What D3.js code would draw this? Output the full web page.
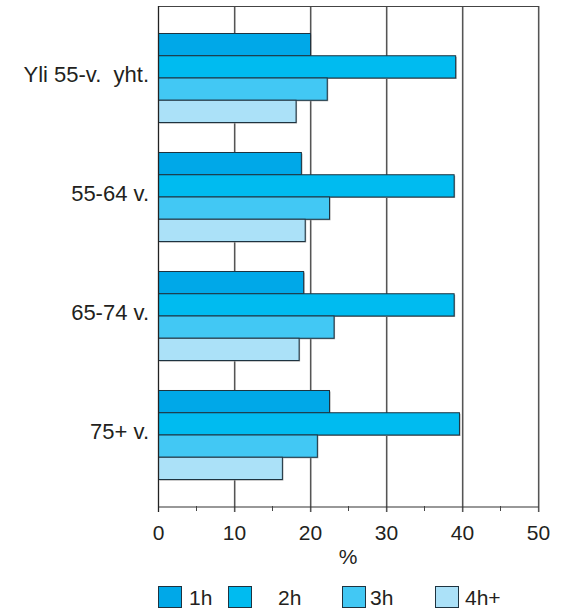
<!DOCTYPE html>
<html>
<head>
<meta charset="utf-8">
<script src="https://cdn.jsdelivr.net/npm/d3@7"></script>
<style>
  body { margin: 0; background: #fff; }
  text { font-family: "Liberation Sans", Arial, sans-serif; fill: #231f20; }
</style>
</head>
<body>
<div id="chart"></div>
<script>
// groups, top to bottom
var groups = ["Yli 55-v.  yht.", "55-64 v.", "65-74 v.", "75+ v."];
var seriesNames = ["1h", "2h", "3h", "4h+"];
var colors = ["#00a8e8", "#00bbf0", "#42c8f4", "#abe1f8"];
var h1 = [20.0, 18.8, 19.1, 22.5];
var h2 = [39.1, 38.9, 38.9, 39.6];
var h3 = [22.2, 22.5, 23.1, 20.9];
var h4 = [18.1, 19.3, 18.5, 16.3];
var xTicks = [0, 10, 20, 30, 40, 50];
var minorTicks = [5, 15, 25, 35, 45];

var series = [h1, h2, h3, h4];
var data = [];
groups.forEach(function(g, gi) {
  series.forEach(function(s, si) {
    data.push({group: g, key: seriesNames[si], value: s[gi], idx: si});
  });
});

var width = 562, height = 609;
var margin = {top: 6, left: 158, right: 24, bottom: 103};

var svg = d3.select("#chart").append("svg")
  .attr("width", width)
  .attr("height", height);

var xScale = d3.scaleLinear()
  .domain([0, 50])
  .range([margin.left, width - margin.right]);

var yScale = d3.scaleBand()
  .domain(groups)
  .range([18, 494])
  .paddingInner(0.252)
  .paddingOuter(0.126);

var ySub = d3.scaleBand()
  .domain(seriesNames)
  .range([0, yScale.bandwidth()]);

var plotBottom = height - margin.bottom;

// gridlines with a light shadow
var grid = svg.append("g");
grid.selectAll(".shadow")
  .data(xTicks.slice(1))
  .enter().append("line")
  .attr("x1", function(d) { return xScale(d) + 1.5; })
  .attr("x2", function(d) { return xScale(d) + 1.5; })
  .attr("y1", margin.top)
  .attr("y2", plotBottom + 6)
  .attr("stroke", "#bbb")
  .attr("stroke-width", 1);
grid.selectAll(".gl")
  .data(xTicks.slice(1))
  .enter().append("line")
  .attr("x1", function(d) { return xScale(d) + 0.5; })
  .attr("x2", function(d) { return xScale(d) + 0.5; })
  .attr("y1", margin.top)
  .attr("y2", plotBottom + 6)
  .attr("stroke", "#555")
  .attr("stroke-width", 1.2);

// top border
svg.append("line")
  .attr("x1", xScale(0)).attr("x2", xScale(50) + 1)
  .attr("y1", margin.top + 0.5).attr("y2", margin.top + 0.5)
  .attr("stroke", "#444").attr("stroke-width", 1.2);

// bars
var bars = svg.append("g");
bars.selectAll(".bshadow")
  .data(data)
  .enter().append("rect")
  .attr("x", xScale(0) + 1.5)
  .attr("y", function(d) { return yScale(d.group) + ySub(d.key) + 1.5; })
  .attr("width", function(d) { return xScale(d.value) - xScale(0); })
  .attr("height", ySub.bandwidth())
  .attr("fill", "#999");
bars.selectAll(".bar")
  .data(data)
  .enter().append("rect")
  .attr("x", xScale(0) + 0.5)
  .attr("y", function(d) { return yScale(d.group) + ySub(d.key) + 0.5; })
  .attr("width", function(d) { return xScale(d.value) - xScale(0); })
  .attr("height", ySub.bandwidth())
  .attr("fill", function(d) { return colors[d.idx]; })
  .attr("stroke", "#1e3340")
  .attr("stroke-width", 1);

// left axis line
svg.append("line")
  .attr("x1", xScale(0) + 0.5).attr("x2", xScale(0) + 0.5)
  .attr("y1", margin.top).attr("y2", plotBottom + 6)
  .attr("stroke", "#222").attr("stroke-width", 1.3);

// x axis
var xAxis = svg.append("g")
  .attr("transform", "translate(0," + (plotBottom + 0.5) + ")")
  .call(d3.axisBottom(xScale).tickValues(xTicks).tickSize(0).tickPadding(19));
xAxis.select(".domain").attr("stroke", "#333").attr("stroke-width", 1.2);
xAxis.selectAll(".tick text")
  .style("font-size", "21px")
  .style("font-family", "Liberation Sans, Arial, sans-serif")
  .attr("fill", "#231f20");

svg.append("g").selectAll("line")
  .data(minorTicks)
  .enter().append("line")
  .attr("x1", function(d) { return xScale(d) + 0.5; })
  .attr("x2", function(d) { return xScale(d) + 0.5; })
  .attr("y1", plotBottom)
  .attr("y2", plotBottom + 5)
  .attr("stroke", "#444");

svg.append("text")
  .attr("x", xScale(25))
  .attr("y", 564)
  .attr("text-anchor", "middle")
  .style("font-size", "21px")
  .text("%");

// group labels
svg.append("g").selectAll("text")
  .data(groups)
  .enter().append("text")
  .attr("x", 149)
  .attr("y", function(d) { return yScale(d) + yScale.bandwidth() / 2 + 4.5; })
  .attr("text-anchor", "end")
  .style("font-size", "22px")
  .style("white-space", "pre")
  .attr("xml:space", "preserve")
  .text(function(d) { return d; });

// legend
var legendX = [158, 228, 342, 435];
var legendTextX = [189, 278, 370, 465];
var legend = svg.append("g");
legend.selectAll("rect")
  .data(seriesNames)
  .enter().append("rect")
  .attr("x", function(d, i) { return legendX[i] + 0.5; })
  .attr("y", 586.5)
  .attr("width", 23)
  .attr("height", 21)
  .attr("fill", function(d, i) { return colors[i]; })
  .attr("stroke", "#1e3340");
legend.selectAll("text")
  .data(seriesNames)
  .enter().append("text")
  .attr("x", function(d, i) { return legendTextX[i]; })
  .attr("y", 605)
  .style("font-size", "21px")
  .text(function(d) { return d; });
</script>
</body>
</html>
